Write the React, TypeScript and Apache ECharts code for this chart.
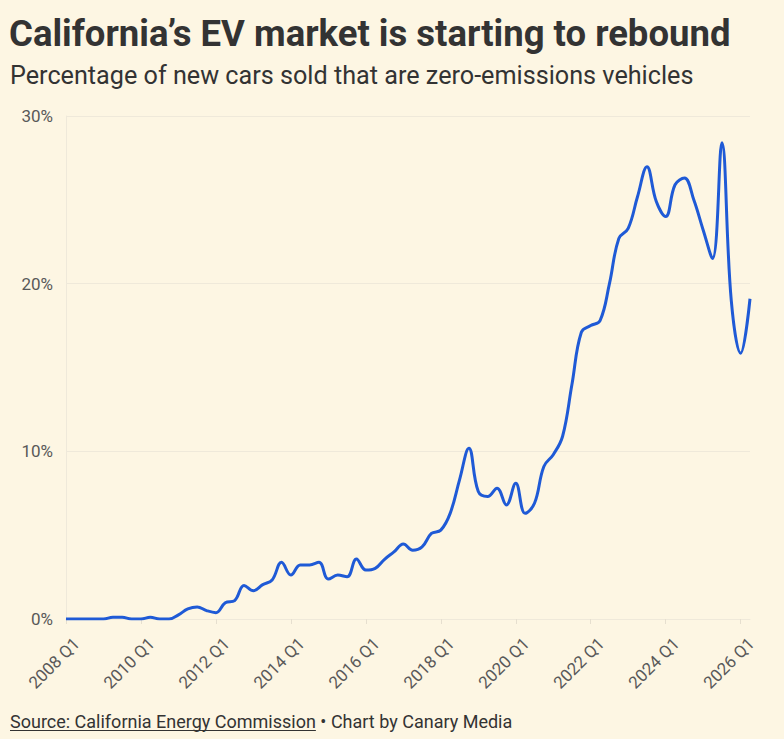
import React, { useEffect, useRef } from "react";
import * as echarts from "echarts";

const startYear = 2008;
const quarterCount = 74; // 2008 Q1 .. 2026 Q2
const quarters: string[] = [];
for (let i = 0; i < quarterCount; i++) {
  quarters.push(`${startYear + Math.floor(i / 4)} Q${(i % 4) + 1}`);
}

const zevShare: number[] = [
  0, 0, 0, 0, 0, 0.1, 0.1, 0, 0, 0.1, 0, 0,
  0.25, 0.6, 0.72, 0.5, 0.38, 0.97, 1.1, 2.0, 1.69, 2.05, 2.33, 3.38,
  2.62, 3.22, 3.22, 3.38, 2.38, 2.62, 2.52, 3.58, 2.92, 3.02, 3.56, 4.0,
  4.47, 4.1, 4.3, 5.1, 5.3, 6.3, 8.3, 10.18, 7.6, 7.3, 7.8, 6.8,
  8.1, 6.3, 6.9, 9.1, 9.8, 10.9, 14.0, 17.1, 17.5, 17.8, 20.0, 22.7,
  23.3, 25.2, 26.97, 24.9, 24.0, 25.9, 26.3, 25.0, 23.2, 21.5, 28.4, 19.0,
  15.85, 19.1,
];

const yTicks = [0, 10, 20, 30];

const titleText = "California\u2019s EV market is starting to rebound";
const subtitleText = "Percentage of new cars sold that are zero-emissions vehicles";
const sourceText = "Source: California Energy Commission";
const creditText = " \u2022 Chart by Canary Media";

const FONT = "Roboto, 'Noto Sans', sans-serif";
const BG = "#fdf6e3";
const TEXT = "#333333";
const AXIS_TEXT = "#595959";
const GRID = "#efe9da";

function measure(text: string, font: string): number {
  const c = document.createElement("canvas").getContext("2d");
  if (!c) return text.length * 8;
  c.font = font;
  return c.measureText(text).width;
}

export default function App() {
  const ref = useRef<HTMLDivElement>(null);

  useEffect(() => {
    document.body.style.margin = "0";
    document.body.style.background = BG;
    if (!ref.current) return;
    const chart = echarts.init(ref.current, undefined, { renderer: "svg" });
    const srcSize = 18;
    const srcW = measure(sourceText, `${srcSize}px ${FONT}`);

    chart.setOption({
      animation: false,
      backgroundColor: BG,
      textStyle: { fontFamily: FONT },
      grid: { left: 66, right: 34, top: 116, bottom: 120, containLabel: false },
      xAxis: {
        type: "category",
        data: quarters,
        boundaryGap: false,
        axisLine: { show: true, lineStyle: { color: GRID, width: 1 } },
        axisTick: { show: true, interval: 7, length: 5, lineStyle: { color: "#e6dfcf" } },
        axisLabel: {
          interval: 7,
          rotate: 45,
          margin: 11,
          verticalAlign: "top",
          lineHeight: 30,
          color: AXIS_TEXT,
          fontSize: 17,
          fontFamily: FONT,
        },
        splitLine: { show: false },
      },
      yAxis: {
        type: "value",
        min: yTicks[0],
        max: yTicks[yTicks.length - 1],
        interval: 10,
        axisLine: { show: true, lineStyle: { color: GRID, width: 1 } },
        axisTick: { show: false },
        axisLabel: {
          formatter: "{value}%",
          color: AXIS_TEXT,
          fontSize: 17,
          margin: 13,
          fontFamily: FONT,
        },
        splitLine: { show: true, lineStyle: { color: GRID, width: 1 } },
      },
      series: [
        {
          type: "line",
          data: zevShare,
          smooth: 0.4,
          showSymbol: false,
          lineStyle: { color: "#1f5ad6", width: 3 },
          z: 5,
        },
      ],
      graphic: [
        {
          type: "text",
          x: 9,
          y: 33.5,
          style: {
            text: titleText,
            fontSize: 36.5,
            fontWeight: "bold",
            fill: TEXT,
            fontFamily: FONT,
            verticalAlign: "middle",
          },
        },
        {
          type: "text",
          x: 10,
          y: 75.5,
          style: {
            text: subtitleText,
            fontSize: 25.2,
            fill: TEXT,
            fontFamily: FONT,
            verticalAlign: "middle",
          },
        },
        {
          type: "text",
          x: 10,
          y: 721,
          style: {
            text: sourceText,
            fontSize: srcSize,
            fill: TEXT,
            fontFamily: FONT,
            verticalAlign: "middle",
          },
        },
        {
          type: "line",
          shape: { x1: 10, y1: 730.5, x2: 10 + srcW, y2: 730.5 },
          style: { stroke: TEXT, lineWidth: 1 },
        },
        {
          type: "text",
          x: 10 + srcW,
          y: 721,
          style: {
            text: creditText,
            fontSize: srcSize,
            fill: TEXT,
            fontFamily: FONT,
            verticalAlign: "middle",
          },
        },
      ],
    });
    return () => chart.dispose();
  }, []);

  return <div ref={ref} style={{ width: 784, height: 739, background: BG }} />;
}
